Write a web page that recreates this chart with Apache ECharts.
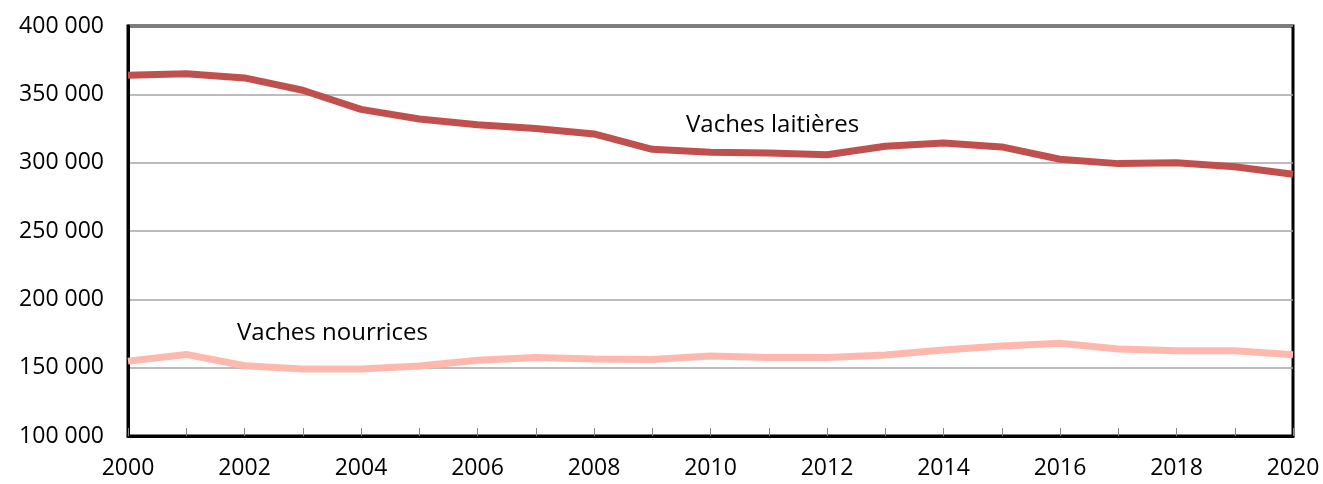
<!DOCTYPE html>
<html>
<head>
<meta charset="utf-8">
<script src="https://cdn.jsdelivr.net/npm/echarts@6/dist/echarts.min.js"></script>
<style>
html, body { margin: 0; padding: 0; background: #fff; }
#chart { width: 1323px; height: 484px; }
</style>
</head>
<body>
<div id="chart"></div>
<script>
var years = ['2000','2001','2002','2003','2004','2005','2006','2007','2008','2009','2010',
             '2011','2012','2013','2014','2015','2016','2017','2018','2019','2020'];
var laitieres = [364000,365000,362000,353000,339000,332000,327700,325000,321000,309800,307600,
                 307000,305800,312000,314400,311500,302500,299300,300000,297000,291500];
var nourrices = [154800,159700,151400,149000,149000,151200,155500,157400,156300,156000,158500,
                 157400,157400,159200,162900,165800,167800,163600,162400,162400,159400];

var font = '"Open Sans", "Noto Sans", sans-serif';
var dom = document.getElementById('chart');
var myChart = echarts.init(dom);

function fmt(v) {
    return String(v).replace(/\B(?=(\d{3})+(?!\d))/g, ' ');
}

var option = {
    animation: false,
    grid: {
        left: 128, right: 30, top: 26, bottom: 48,
        show: true, borderColor: '#000', borderWidth: 3
    },
    xAxis: {
        type: 'category',
        data: years,
        boundaryGap: false,
        axisLine: { lineStyle: { color: '#000', width: 3 } },
        axisTick: { inside: true, length: 8, interval: 0, lineStyle: { color: '#888', width: 1 } },
        axisLabel: { interval: 1, color: '#000', fontSize: 23, fontFamily: font, margin: 21 },
        splitLine: { show: false }
    },
    yAxis: {
        type: 'value',
        min: 100000, max: 400000, interval: 50000,
        axisLine: { show: true, lineStyle: { color: '#000', width: 3 } },
        axisTick: { show: false },
        axisLabel: { color: '#000', fontSize: 23, fontFamily: font, margin: 24, formatter: fmt },
        splitLine: { lineStyle: { color: '#a6a6a6', width: 1.5 } }
    },
    series: [
        {
            name: 'Vaches laitières', type: 'line', data: laitieres,
            symbol: 'none', lineStyle: { color: '#c0504d', width: 7 }, z: 3
        },
        {
            name: 'Vaches nourrices', type: 'line', data: nourrices,
            symbol: 'none', lineStyle: { color: '#ffb8ae', width: 7 }, z: 3
        }
    ],
    graphic: [
        { type: 'text', x: 686, y: 125, z: 10,
          style: { text: 'Vaches laitières', font: '24px ' + font, fill: '#000',
                   verticalAlign: 'middle' } },
        { type: 'text', x: 237, y: 333, z: 10,
          style: { text: 'Vaches nourrices', font: '24px ' + font, fill: '#000',
                   verticalAlign: 'middle' } }
    ]
};

myChart.setOption(option);
</script>
</body>
</html>
